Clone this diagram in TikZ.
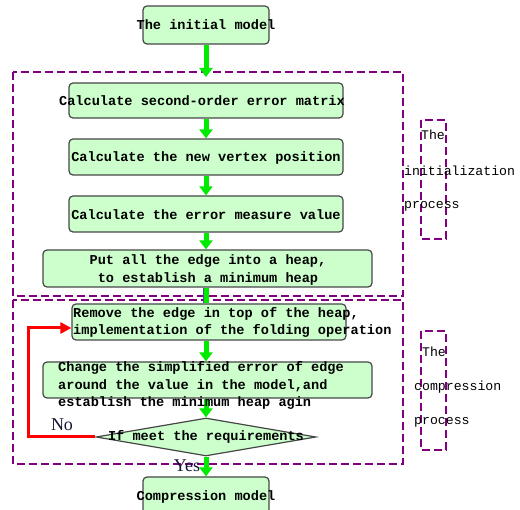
\documentclass[tikz,border=0pt]{standalone}
\usepackage{fontspec}
\setmainfont{Liberation Serif}
\newfontfamily\monofont{Liberation Mono}
\usetikzlibrary{arrows.meta,shapes.geometric}
\definecolor{boxfill}{RGB}{204,255,204}
\definecolor{boxline}{RGB}{70,70,70}
\definecolor{arrowgreen}{RGB}{0,235,0}
\definecolor{dashpurple}{RGB}{128,0,128}
\definecolor{nocol}{RGB}{20,20,50}
\begin{document}
\begin{tikzpicture}[x=1pt,y=-1pt,
  stepbox/.style={draw=boxline, fill=boxfill, rounded corners=4pt, line width=1.2pt, inner sep=0pt},
  decisionbox/.style={diamond, draw=boxline, fill=boxfill, line width=1.2pt, inner sep=0pt, minimum width=220pt, minimum height=38pt},
  boxtext/.style={inner sep=0pt, font=\monofont\bfseries\fontsize{13.6}{17.8}\selectfont},
  sidetext/.style={inner sep=0pt, font=\monofont\fontsize{13.2}{16}\selectfont},
  answer/.style={inner sep=0pt, text=nocol, font=\fontsize{18}{18}\selectfont},
  region/.style={draw=dashpurple, line width=1.8pt, dash pattern=on 8pt off 4pt},
  gar/.style={draw=arrowgreen, line width=5pt, -{Triangle[width=13pt,length=9pt]}},
  gline/.style={draw=arrowgreen, line width=5pt},
  redarrow/.style={draw=red, line width=3pt, -{Triangle[width=11pt,length=11pt]}}
]
\useasboundingbox (0,0) rectangle (520,510);

% dashed regions
\draw[region] (13,72) rectangle (403,296);
\draw[region] (13,300) rectangle (403,464);
\draw[region] (421,120) rectangle (446,239);
\draw[region] (421,331) rectangle (446,450);

% boxes
\node[stepbox, minimum width=126pt, minimum height=38pt] (init) at (206,25) {};
\node[boxtext] (initt) at (206,25) {The initial model};

\node[stepbox, minimum width=274pt, minimum height=35pt] (b1) at (206,100.5) {};
\node[boxtext] (b1t) at (202,101) {Calculate second-order error matrix};

\node[stepbox, minimum width=274pt, minimum height=36pt] (b2) at (206,157) {};
\node[boxtext] (b2t) at (206,158) {Calculate the new vertex position};

\node[stepbox, minimum width=274pt, minimum height=36pt] (b3) at (206,214) {};
\node[boxtext] (b3t) at (206,215) {Calculate the error measure value};

\node[stepbox, minimum width=329pt, minimum height=37pt] (b4) at (207.5,268.5) {};
\node[boxtext, align=center] (b4t) at (208,270) {Put all the edge into a heap,\\to establish a minimum heap};

\node[stepbox, minimum width=274pt, minimum height=36pt] (b5) at (209,322) {};
\node[boxtext, align=left, anchor=west] (b5t) at (73,322.5) {Remove the edge in top of the heap,\\implementation of the folding operation};

\node[stepbox, minimum width=329pt, minimum height=36pt] (b6) at (207.5,380) {};

\node[decisionbox] (dia) at (206,437) {};

\node[stepbox, minimum width=126pt, minimum height=40pt] (comp) at (206,497) {};
\node[boxtext] (compt) at (206,497) {Compression model};

% arrows
\coordinate (ax) at (206,0);
\coordinate (entry) at (206,77);
\coordinate (loopx) at (28,0);
\coordinate (b5in) at ([yshift=-6pt]b5.west);
\draw[gar] (init.south) -- (entry);
\draw[gar] (b1.south) -- (b2.north);
\draw[gar] (b2.south) -- (b3.north);
\draw[gar] (b3.south) -- (b4.north -| ax);
\draw[draw=gray!60!blue, line width=6.5pt] (b4.south -| ax) -- (b5.north -| ax);
\draw[gline] (b4.south -| ax) -- (b5.north -| ax);
\draw[gar] (b5.south -| ax) -- (b6.north -| ax);
\draw[gar] (b6.south -| ax) -- (dia.north);
\draw[gar] (dia.south) -- (comp.north);
\draw[redarrow] (dia.west) -- (dia.west -| loopx) -- (loopx |- b5in) -- (b5in);

% texts drawn over arrows
\node[boxtext, align=left, anchor=west] (b6t) at (58,385.5) {Change the simplified error of edge\\around the value in the model,and\\establish the minimum heap agin};
\node[boxtext] (diat) at (206,437) {If meet the requirements};
\node[answer] (nolab) at (62,425) {No};
\node[answer] (yeslab) at (187,466) {Yes};

% side labels
\node[sidetext] (s1) at (433,135) {The};
\node[sidetext, anchor=west] (s2) at (404,171) {initialization};
\node[sidetext, anchor=west] (s3) at (404,206) {process};
\node[sidetext] (s4) at (434,352) {The};
\node[sidetext, anchor=west] (s5) at (414,387) {compression};
\node[sidetext, anchor=west] (s6) at (414,422) {process};
\end{tikzpicture}
\end{document}
